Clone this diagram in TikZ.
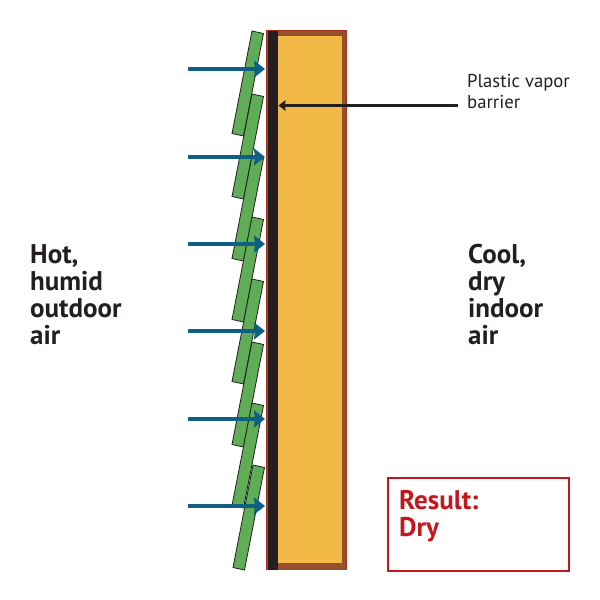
\documentclass[tikz,border=0pt]{standalone}
\usepackage{fontspec}
\setmainfont{PT Sans}
\usetikzlibrary{arrows.meta}
\definecolor{ink}{HTML}{231F20}
\definecolor{shingle}{HTML}{5FAD56}
\definecolor{frame}{HTML}{96502C}
\definecolor{rim}{HTML}{A5301C}
\definecolor{core}{HTML}{F2B947}
\definecolor{wind}{HTML}{0F5F85}
\definecolor{result}{HTML}{C4161C}
\begin{document}
\begin{tikzpicture}[x=1pt,y=-1pt,
    shinglepart/.style={draw=ink,line width=0.8pt,fill=shingle},
    windarr/.style={-{Stealth[inset=1pt,length=11pt,width=17pt]},line width=4pt,draw=wind},
    barrierarr/.style={-{Stealth[inset=0.5pt,length=7pt,width=10.5pt]},line width=2.4pt,draw=ink},
    airlabel/.style={anchor=north west,align=left,font=\fontsize{27}{27}\selectfont\bfseries,text=ink,inner sep=0pt},
    smalllabel/.style={anchor=north west,align=left,font=\fontsize{18.7}{21}\selectfont,text=ink,inner sep=0pt}]
    \useasboundingbox (0,0) rectangle (600,600);
    % siding
    \foreach \t/\dx in {31/0,94/0,156/0,217/0,279/0,342/0,403/0,465/1}
      \draw[shinglepart] (252+\dx,\t) -- (263.5+\dx,\t+2.5) -- (243.5+\dx,\t+105) -- (232+\dx,\t+102.5) -- cycle;
    % wall
    \fill[rim] (266,30) rectangle (347,570);
    \fill[frame] (267,31) rectangle (346,569.5);
    \fill[core] (278,36) rectangle (341.5,563);
    \fill[ink] (267.5,30.5) rectangle (278,570);
    % wind
    \foreach \n/\y in {a/69,b/157,c/244,d/331,e/419,f/506}{
      \coordinate (out\n) at (188,\y);
      \coordinate (in\n) at (265,\y);
      \draw[windarr] (out\n) -- (in\n);
    }
    % labels
    \node[airlabel] (hot) at (30,244) {Hot,\\humid\\outdoor\\air};
    \node[airlabel] (cool) at (468,244) {Cool,\\dry\\indoor\\air};
    \node[smalllabel] (plastic) at (467,74) {Plastic vapor\\barrier};
    \coordinate (barrierend) at (458,105.5);
    \coordinate (barrier) at (278.5,105.5);
    \draw[barrierarr] (barrierend) -- (barrier);
    \node[draw=result,line width=1.8pt,minimum width=181.5pt,minimum height=93pt,inner sep=0pt] (box) at (478.5,524.3) {};
    \node[anchor=north west,align=left,inner sep=0pt,text=result,font=\fontsize{27}{27}\selectfont\bfseries] (res) at (399,490) {Result:\\Dry};
\end{tikzpicture}
\end{document}
